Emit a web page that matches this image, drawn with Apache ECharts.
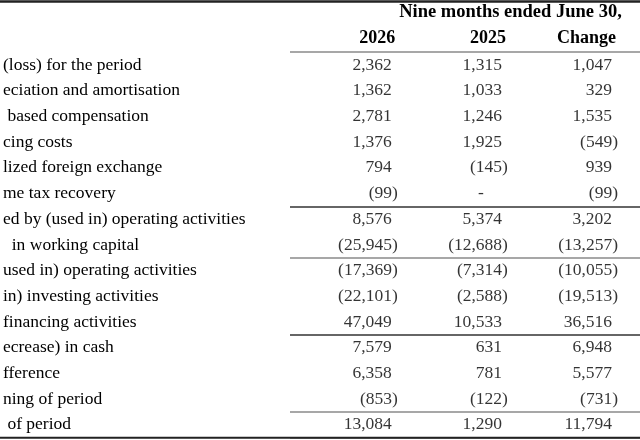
<!DOCTYPE html>
<html>
<head>
<meta charset="utf-8">
<script src="https://cdn.jsdelivr.net/npm/echarts@6/dist/echarts.min.js"></script>
<style>
  html, body { margin: 0; padding: 0; background: #fff; }
  #table { width: 640px; height: 440px; }
</style>
</head>
<body>
<div id="table"></div>
<script>
// rows as they show in the cropped picture (the left side of each label is cut off)
var rowLabels = [
    '(loss) for the period',
    'eciation and amortisation',
    ' based compensation',
    'cing costs',
    'lized foreign exchange',
    'me tax recovery',
    'ed by (used in) operating activities',
    '  in working capital',
    'used in) operating activities',
    'in) investing activities',
    'financing activities',
    'ecrease) in cash',
    'fference',
    'ning of period',
    ' of period'
];
var periodTitle = 'Nine months ended June 30,';
var colHeaders = ['2026', '2025', 'Change'];

var values2026 = [2362, 1362, 2781, 1376, 794, -99, 8576, -25945, -17369, -22101, 47049, 7579, 6358, -853, 13084];
var values2025 = [1315, 1033, 1246, 1925, -145, 0, 5374, -12688, -7314, -2588, 10533, 631, 781, -122, 1290];
var valuesChange = [1047, 329, 1535, -549, 939, -99, 3202, -13257, -10055, -19513, 36516, 6948, 5577, -731, 11794];

// rows that get a rule above them
var ruleRows = [0, 6, 8, 11, 14];

var serif = '"Liberation Serif", "Times New Roman", serif';
var table = echarts.init(document.getElementById('table'));

function fmt(v) {
    if (v === 0) return '{d|-}';
    var s = Math.abs(v).toString().replace(/\B(?=(\d{3})+(?!\d))/g, ',');
    return v < 0 ? '{n|(' + s + ')}' : '{p|' + s + '}';
}

function column(vals, c) {
    return {
        type: 'scatter',
        symbolSize: 0,
        silent: true,
        data: vals.map(function (v, r) { return [c, r, v]; }),
        label: {
            show: true,
            position: 'inside',
            align: 'right',
            verticalAlign: 'middle',
            formatter: function (p) { return fmt(p.value[2]); },
            rich: {
                n: { fontFamily: serif, fontSize: 17.5, color: '#000' },
                p: { fontFamily: serif, fontSize: 17.5, color: '#000', padding: [0, 6, 0, 0] },
                d: { fontFamily: serif, fontSize: 17.5, color: '#000', padding: [0, 24, 0, 0] }
            }
        }
    };
}

var option = {
    animation: false,
    grid: { left: 288, right: 0, top: 52.2, bottom: 2.3 },
    xAxis: { type: 'value', min: -0.98, max: 2.2, show: false },
    yAxis: {
        type: 'category',
        inverse: true,
        data: rowLabels,
        axisLine: { show: false },
        axisTick: { show: false },
        axisLabel: {
            interval: 0,
            margin: 287,
            align: 'left',
            fontFamily: serif,
            fontSize: 17.5,
            color: '#000'
        },
        splitLine: {
            show: true,
            interval: function (i) { return ruleRows.indexOf(i) > -1; },
            lineStyle: { color: ['#8a8a8a', '#333', '#8a8a8a', '#333', '#8a8a8a'], width: 1.6 }
        }
    },
    series: [column(values2026, 0), column(values2025, 1), column(valuesChange, 2)]
};

table.setOption(option);

// header texts and the full width outer rules
var headShift = [-20.5, -20, -31.5];
var graphics = [
    { type: 'line', shape: { x1: 0, y1: 1.5, x2: 640, y2: 1.5 }, style: { stroke: '#222', lineWidth: 2.5 } },
    { type: 'line', shape: { x1: 0, y1: 437.8, x2: 640, y2: 437.8 }, style: { stroke: '#222', lineWidth: 2 } },
    {
        type: 'text', x: 510.5, y: 12.5,
        style: { text: periodTitle, fontFamily: serif, fontWeight: 'bold', fontSize: 18.5, fill: '#000', align: 'center', verticalAlign: 'middle' }
    }
];
colHeaders.forEach(function (h, c) {
    graphics.push({
        type: 'text',
        x: table.convertToPixel({ xAxisIndex: 0 }, c) + headShift[c],
        y: 38.5,
        style: { text: h, fontFamily: serif, fontWeight: 'bold', fontSize: 18, fill: '#000', align: 'center', verticalAlign: 'middle' }
    });
});
table.setOption({ graphic: graphics });

window.onresize = function () {
    table.resize();
};
</script>
</body>
</html>
